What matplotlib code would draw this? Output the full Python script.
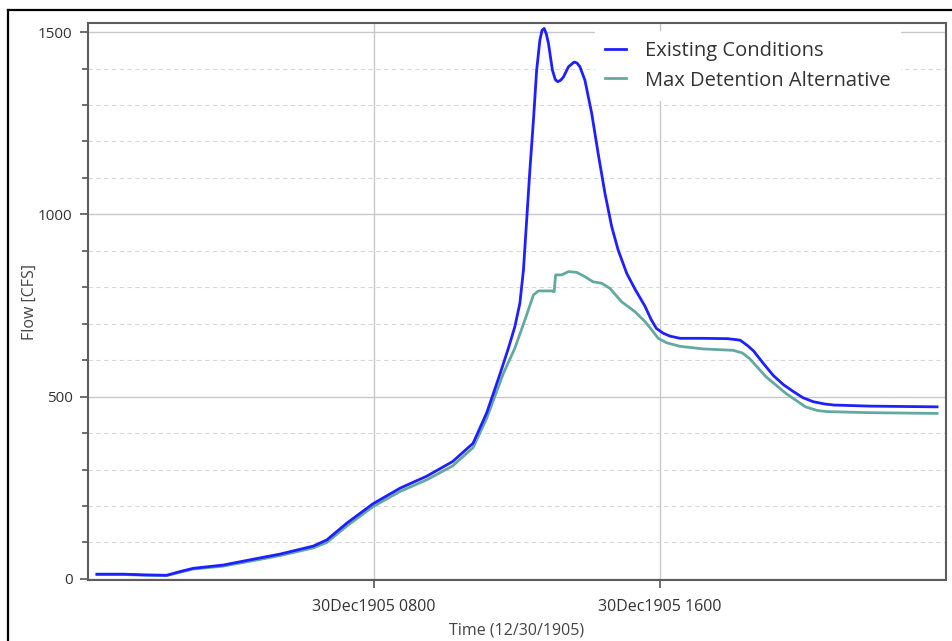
import matplotlib
matplotlib.use("Agg")
import matplotlib.pyplot as plt
import matplotlib.dates as mdates
from matplotlib.lines import Line2D
from matplotlib.ticker import MultipleLocator
import pandas as pd

# Hydrograph values (hours after 30Dec1905 0000, flow in CFS)
existing_hours = [0.25, 1.0, 1.6, 2.2, 2.57, 2.94, 3.78, 4.62, 5.37, 6.3, 6.68, 7.24,
                  7.97, 8.73, 9.48, 10.2, 10.77, 11.15, 11.5, 11.76, 11.94, 12.08,
                  12.18, 12.27, 12.36, 12.46, 12.55, 12.64, 12.7, 12.76, 12.82,
                  12.88, 12.99, 13.07, 13.14, 13.22, 13.3, 13.44, 13.6, 13.68,
                  13.76, 13.9, 14.09, 14.27, 14.46, 14.65, 14.83, 15.07, 15.3,
                  15.58, 15.75, 15.9, 16.09, 16.28, 16.56, 17.2, 17.9, 18.24,
                  18.45, 18.62, 18.9, 19.17, 19.45, 19.73, 20.0, 20.29, 20.6,
                  20.86, 21.87, 23.75]
existing_flow = [13, 13, 11, 10, 20, 29, 38, 54, 68, 90, 107, 153,
                 206, 249, 282, 322, 372, 455, 555, 633, 692, 756,
                 847, 984, 1121, 1259, 1396, 1478, 1505, 1510, 1495,
                 1469, 1396, 1370, 1364, 1368, 1377, 1405, 1418, 1415,
                 1405, 1368, 1277, 1167, 1058, 966, 902, 838, 795,
                 748, 712, 687, 674, 666, 660, 660, 659, 655,
                 640, 625, 590, 558, 533, 514, 497, 486, 480,
                 477, 474, 472]

maxdet_hours = [0.25, 1.0, 1.6, 2.2, 2.57, 2.94, 3.78, 4.62, 5.37, 6.3, 6.68, 7.24,
                7.97, 8.73, 9.48, 10.2, 10.77, 11.15, 11.62, 11.94, 12.22, 12.46,
                12.6, 12.97, 13.04, 13.08, 13.25, 13.44, 13.67, 13.9, 14.13,
                14.37, 14.6, 14.93, 15.3, 15.58, 15.81, 15.95, 16.18, 16.56,
                17.2, 18.05, 18.3, 18.5, 18.96, 19.52, 20.07, 20.4, 20.66,
                21.87, 23.75]
maxdet_flow = [12, 12, 10, 9, 18, 27, 35, 50, 64, 85, 100, 145,
               198, 240, 272, 310, 360, 440, 564, 633, 710, 779,
               790, 790, 788, 834, 834, 843, 841, 829, 815,
               811, 797, 760, 733, 706, 678, 660, 648, 638,
               631, 627, 620, 605, 555, 509, 472, 462, 459,
               456, 454]

series_names = ["Existing Conditions", "Max Detention Alternative"]
start = pd.Timestamp("1905-12-30 00:00")

plt.rcParams["font.family"] = ["Open Sans", "DejaVu Sans"]

fig = plt.figure(figsize=(9.52, 6.41), dpi=100)
ax = fig.add_axes([88 / 952, 1 - 580 / 641, (946 - 88) / 952, (580 - 23) / 641])

t_exist = [start + pd.Timedelta(hours=h) for h in existing_hours]
t_maxdet = [start + pd.Timedelta(hours=h) for h in maxdet_hours]

ax.plot(t_exist, existing_flow, color="#1f1fff", lw=2.0, label=series_names[0],
        zorder=3, solid_joinstyle="round")
ax.plot(t_maxdet, maxdet_flow, color="#64a9a1", lw=2.0, label=series_names[1],
        zorder=2, solid_joinstyle="round")

ax.set_xlim(start, start + pd.Timedelta(hours=24))
ax.set_ylim(-3, 1525)

# ticks
ax.xaxis.set_major_locator(mdates.HourLocator(byhour=[8, 16]))
ax.xaxis.set_major_formatter(mdates.DateFormatter("%d%b%Y %H%M"))
ax.yaxis.set_major_locator(MultipleLocator(500))
ax.yaxis.set_minor_locator(MultipleLocator(100))
ax.tick_params(axis="both", which="major", length=6, width=1.2, color="#555555",
               labelcolor="#333333")
ax.tick_params(axis="y", which="major", pad=5, labelsize=11)
ax.tick_params(axis="x", which="major", pad=8, labelsize=11.5)
ax.tick_params(axis="y", which="minor", length=4, width=1.2, color="#555555")

# grid
ax.grid(True, which="major", color="#c8c8c8", lw=1.0)
ax.grid(True, which="minor", axis="y", color="#d8d8d8", lw=0.8, linestyle=(0, (4, 3)))
ax.set_axisbelow(True)

for side in ["left", "bottom", "top", "right"]:
    ax.spines[side].set_color("#5c5c5c")
    ax.spines[side].set_linewidth(1.5)

ax.set_ylabel("Flow [CFS]", fontsize=11.5, color="#444444", labelpad=0)
ax.set_xlabel("Time (12/30/1905)", fontsize=11.5, color="#444444", labelpad=5)

leg = ax.legend(loc="upper left", bbox_to_anchor=(0.579, 1.003), fontsize=14.5,
                frameon=True, facecolor="white", edgecolor="none", framealpha=1,
                handlelength=1.05, handletextpad=0.95, labelspacing=0.45,
                borderpad=0.5, fancybox=False)
for txt in leg.get_texts():
    txt.set_color("#333333")

# outer picture frame (left and top edges are visible)
fig.add_artist(Line2D([7.5 / 952, 7.5 / 952], [0, 1 - 9.5 / 641], color="black",
                      lw=1.6, transform=fig.transFigure))
fig.add_artist(Line2D([7.5 / 952, 1], [1 - 9.5 / 641, 1 - 9.5 / 641], color="black",
                      lw=1.6, transform=fig.transFigure))

fig.savefig("out.png", dpi=100)
